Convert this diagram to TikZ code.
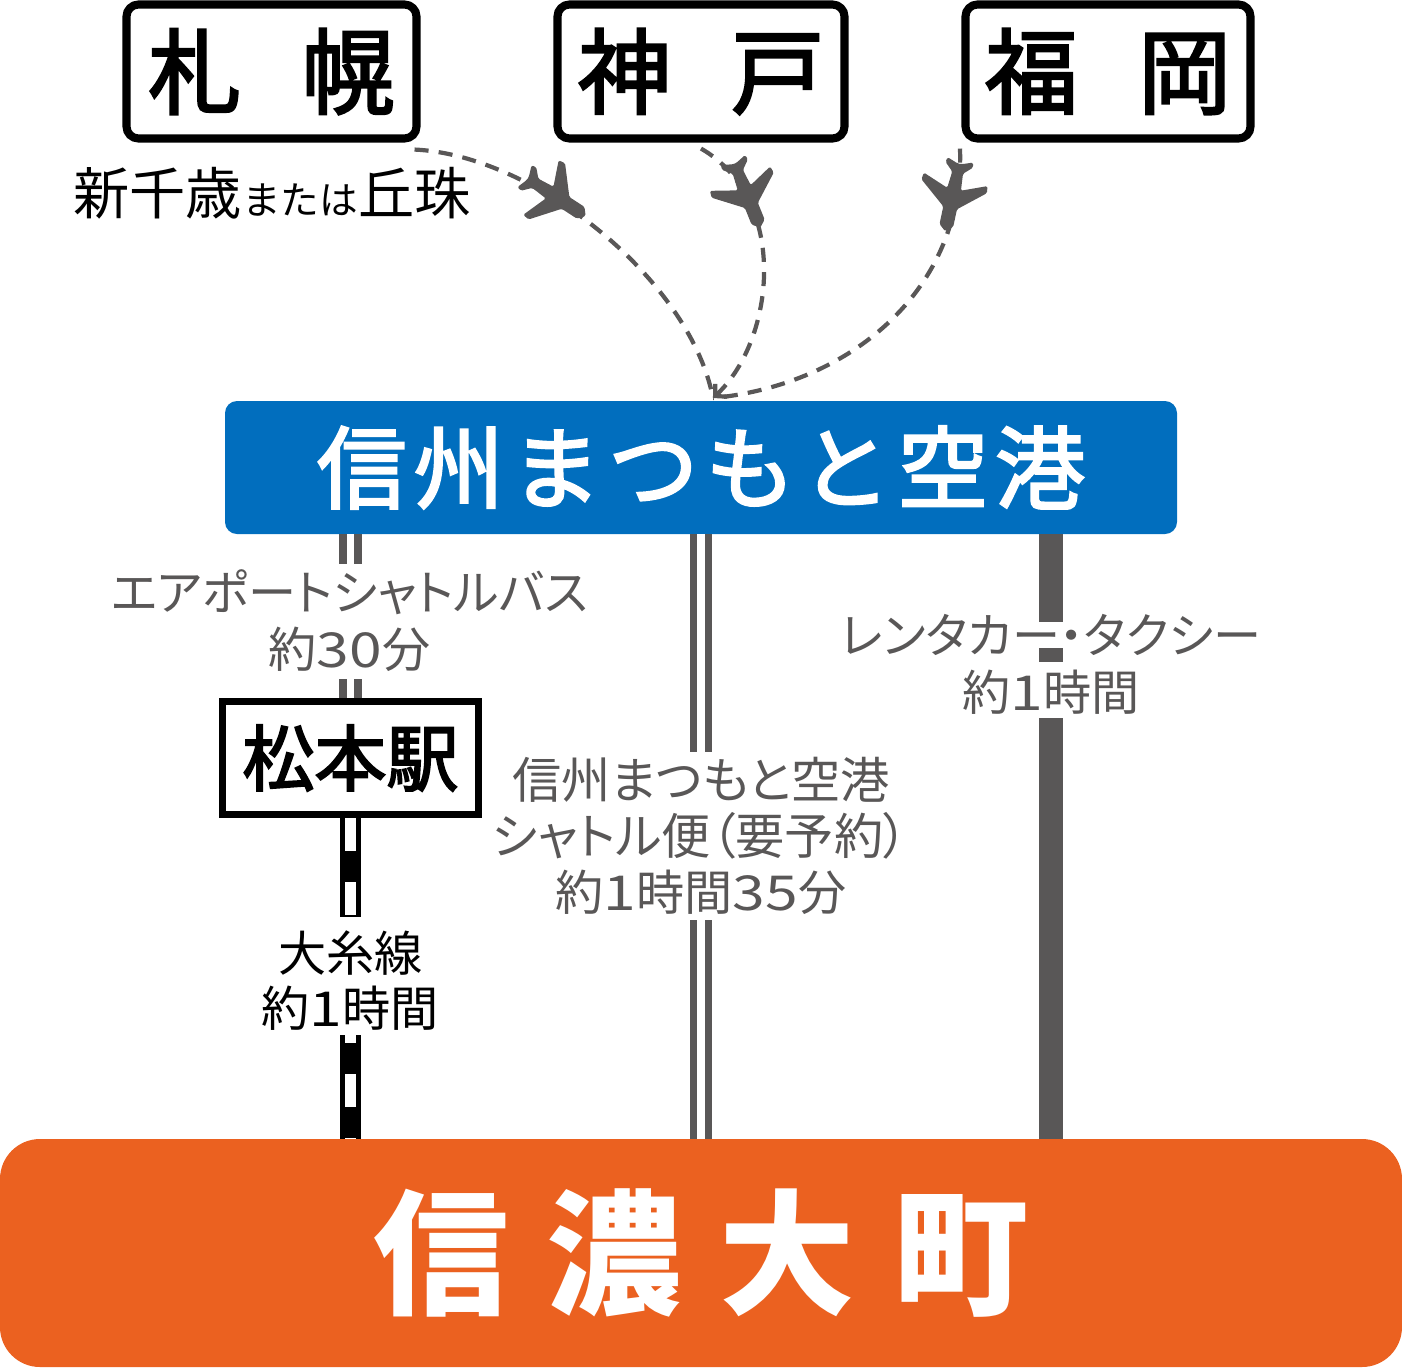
\documentclass[tikz,border=0pt]{standalone}
\usepackage{fontspec}
\usetikzlibrary{arrows.meta}
\setmainfont{Noto Sans CJK JP}
\newfontfamily\labelfont[RawFeature=+palt]{Noto Sans CJK JP}
\newfontfamily\digitfont[FakeStretch=1.22]{Noto Sans CJK JP}
\newfontfamily\signfont[FakeBold=2.6]{Noto Sans CJK JP}
\newfontfamily\airportfont[LetterSpace=8,FakeBold=2.6]{Noto Sans CJK JP}
\newfontfamily\goalfont[LetterSpace=28]{Noto Sans CJK JP}
\newcommand{\dg}[1]{{\digitfont #1}}
\definecolor{routegray}{HTML}{595757}
\definecolor{airportblue}{HTML}{016EBE}
\definecolor{goalorange}{HTML}{EB6120}

\tikzset{
  citybox/.style={draw=black, line width=2.3pt, fill=white, rounded corners=0.12cm, minimum height=1.34cm, inner sep=0pt, font=\signfont\fontsize{26.5}{26.5}\selectfont},
  labeltext/.style={fill=white, inner sep=0.052cm, text=routegray, font=\labelfont\fontsize{13.7}{13.7}\selectfont},
  shuttletext/.style={labeltext, font=\labelfont\fontsize{14}{14}\selectfont},
  flight/.style={draw=routegray, line width=1.2pt, dash pattern=on 4pt off 2.9pt},
  busline/.style={draw=routegray, line width=2.2pt, double=white, double distance=2pt},
  taxiline/.style={draw=routegray, line width=6.8pt},
  railline/.style={draw=black, line width=5.7pt, postaction={draw=white, line width=3.4pt, dash pattern=on 9.25pt off 8.95pt}},
  plane/.pic={
    \fill[routegray, rounded corners=0.015cm]
      (0.33,0) -- (0.27,0.07) -- (0.09,0.07) -- (-0.13,0.33) -- (-0.20,0.32) -- (-0.10,0.07)
      -- (-0.27,0.055) -- (-0.35,0.14) -- (-0.40,0.13) -- (-0.36,0.02) -- (-0.36,-0.02) -- (-0.40,-0.13) -- (-0.35,-0.14) -- (-0.27,-0.055)
      -- (-0.10,-0.07) -- (-0.20,-0.33) -- (-0.13,-0.34) -- (0.09,-0.07) -- (0.27,-0.07) -- cycle;
  }
}

\begin{document}
\begin{tikzpicture}
      \useasboundingbox (0,0) rectangle (14.02,-13.67);

      % cities at the top
      \node[citybox, minimum width=2.90cm] (sapporo) at (2.715,-0.715) {札\hspace{0.6cm}幌};
      \node[citybox, minimum width=2.87cm] (kobe)    at (7.01,-0.715)  {神\hspace{0.6cm}戸};
      \node[citybox, minimum width=2.85cm] (fukuoka) at (11.08,-0.715) {福\hspace{0.6cm}岡};
      \node[inner sep=0pt, font=\fontsize{16}{16}\selectfont] (okadama) at (2.72,-1.93)
        {新千歳{\fontsize{11}{11}\selectfont または}丘珠};

      % big boxes
      \node[fill=airportblue, rounded corners=0.12cm, minimum width=9.52cm, minimum height=1.33cm, inner sep=0pt, outer sep=0pt,
            text=white, font=\airportfont\fontsize{25.6}{25.6}\selectfont] (airport) at (7.01,-4.675) {信州まつもと空港};
      \node[fill=goalorange, rounded corners=0.40cm, minimum width=14.02cm, minimum height=2.28cm, inner sep=0pt, outer sep=0pt,
            text=white, font=\goalfont\fontsize{38.5}{38.5}\selectfont\bfseries] (omachi) at (7.01,-12.53) {信濃大町};
      \node[draw=black, line width=2.1pt, fill=white, minimum width=2.56cm, minimum height=1.13cm, inner sep=0pt,
            font=\signfont\fontsize{20.5}{20.5}\selectfont] (matsumoto) at (3.505,-7.58) {松本駅};

      \coordinate (landing) at ([xshift=0.12cm,yshift=0.03cm]airport.north);
      \coordinate (taxi) at (10.51,-7);

      % flights
      \draw[flight] ([xshift=-0.06cm,yshift=-0.07cm]sapporo.south east) .. controls (5.35,-1.55) and (6.90,-2.80) .. (landing);
      \draw[flight, -{Straight Barb[length=2.4pt,width=5pt]}] ([yshift=-0.06cm]kobe.south) .. controls (7.90,-2.00) and (7.75,-3.40) .. (landing);
      \draw[flight] ([xshift=-1.48cm,yshift=-0.06cm]fukuoka.south) .. controls (9.65,-2.90) and (8.50,-3.85) .. (landing);

      \pic[rotate=-33]  at (5.58,-1.98) {plane};
      \pic[rotate=-68]  at (7.48,-1.97) {plane};
      \pic[rotate=-102] at (9.52,-1.99) {plane};

      % routes
      \draw[busline]  (airport.south -| matsumoto) -- (matsumoto.north);
      \draw[busline]  (airport.south) -- (omachi.north);
      \draw[taxiline] (airport.south -| taxi) -- (10.51,-6.22);
      \draw[taxiline] (10.51,-6.48) -- (10.51,-6.62);
      \draw[taxiline] (10.51,-7.18) -- (omachi.north -| taxi);
      \draw[railline] (matsumoto.south) -- (omachi.north -| matsumoto);

      % route labels
      \node[labeltext] (bustext)  at (3.495,-5.92) {エアポートシャトルバス};
      \node[labeltext, minimum height=0.60cm] (bustime)  at (3.495,-6.49) {約\dg{30}分};

      \node[shuttletext] (shuttlea) at (7.01,-7.80) {信州まつもと空港};
      \node[shuttletext] (shuttleb) at (7.00,-8.36) {シャトル便（要予約）};
      \node[labeltext]   (shuttlec) at (7.01,-8.92) {約\dg{1}時間\dg{35}分};

      \node[labeltext, fill=none] (taxitext) at (10.51,-6.35) {レンタカー・タクシー};
      \node[labeltext, fill=none] (taxitime) at (10.51,-6.92) {約\dg{1}時間};

      \node[labeltext, text=black, minimum height=0.72cm] (railtext) at (3.505,-9.53) {大糸線};
      \node[labeltext, text=black] (railtime) at (3.50,-10.08) {約\dg{1}時間};

    \end{tikzpicture}
\end{document}
